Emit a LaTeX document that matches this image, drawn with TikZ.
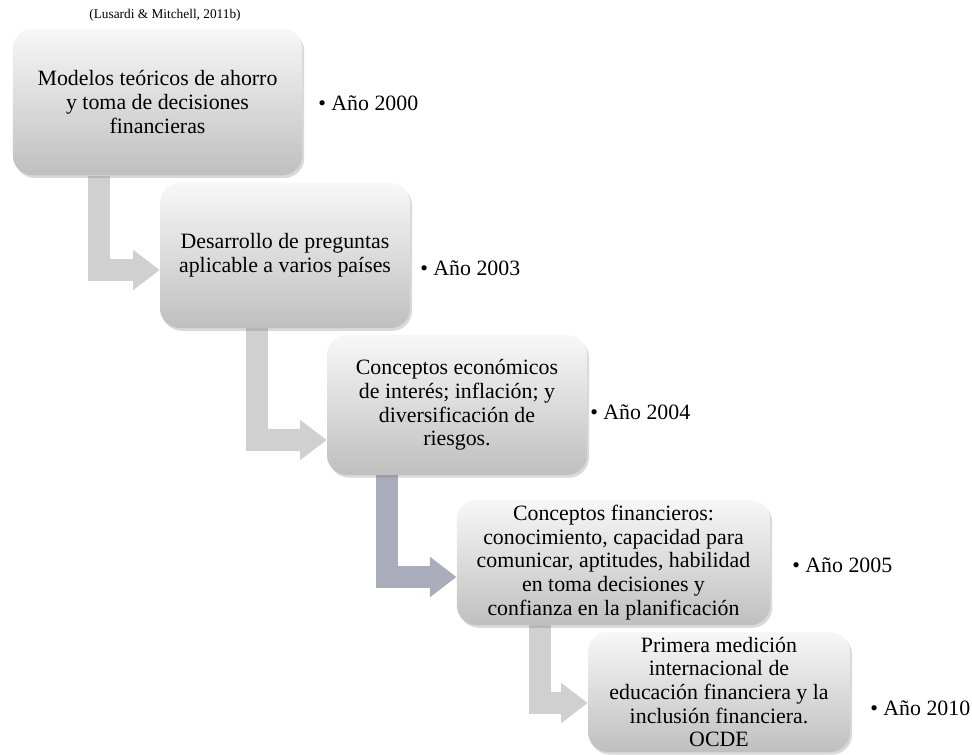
\documentclass[tikz,border=0pt]{standalone}
\usepackage{fontspec}
\setmainfont{Liberation Serif}
\usetikzlibrary{arrows.meta, shadows, backgrounds}
\definecolor{bargray}{HTML}{D0D0D0}
\definecolor{barblue}{HTML}{A9ADBB}

\begin{document}
\begin{tikzpicture}[x=0.75pt, y=-0.75pt,
  stage/.style={rounded corners=15pt, top color=gray!6, bottom color=gray!50,
    drop shadow={opacity=0.3, shadow xshift=1.5pt, shadow yshift=-2pt},
    align=center, inner sep=0pt, font=\fontsize{16.4}{17.8}\selectfont},
  year/.style={anchor=west, inner sep=0pt, font=\fontsize{16.4}{18}\selectfont},
  bar/.style={line width=17pt, bargray, -{Triangle[width=29pt, length=20pt]}}]
  \useasboundingbox (0,0) rectangle (972,755);

  \node[font=\fontsize{10}{12}\selectfont] (cite) at (165,15) {(Lusardi \& Mitchell, 2011b)};

  \node[stage, minimum width=217pt, minimum height=110pt] (b1) at (157.5,102)
    {Modelos teóricos de ahorro\\ y toma de decisiones\\ financieras};
  \node[stage, minimum width=187.5pt, minimum height=109pt] (b2) at (285,255.5)
    {Desarrollo de preguntas\\ aplicable a varios países};
  \node[stage, minimum width=195pt, minimum height=105pt] (b3) at (457,405)
    {Conceptos económicos\\ de interés; inflación; y\\ diversificación de\\ riesgos.};
  \node[stage, minimum width=235pt, minimum height=94pt] (b4) at (613.5,562.5)
    {Conceptos financieros:\\ conocimiento, capacidad para\\ comunicar, aptitudes, habilidad\\ en toma decisiones y\\ confianza en la planificación};
  \node[stage, minimum width=196.5pt, minimum height=90pt] (b5) at (719,692)
    {Primera medición\\ internacional de\\ educación financiera y la\\ inclusión financiera.\\ OCDE};

  \node[year] (y1) at (318,103) {\textbullet\ Año 2000};
  \node[year] (y2) at (420,268) {\textbullet\ Año 2003};
  \node[year] (y3) at (590,412) {\textbullet\ Año 2004};
  \node[year] (y4) at (792,565) {\textbullet\ Año 2005};
  \node[year] (y5) at (870,708) {\textbullet\ Año 2010};

  \coordinate (t1) at (b2.west |- 0,270);
  \coordinate (t2) at (b3.west |- 0,440);
  \coordinate (t3) at (b4.west |- 0,577);
  \coordinate (t4) at (b5.west |- 0,703);

  \begin{scope}[on background layer]
    \draw[bar] (b1.south -| 99,0) |- (t1);
    \draw[bar] (b2.south -| 257,0) |- (t2);
    \draw[bar, barblue] (b3.south -| 387,0) |- (t3);
    \draw[bar] (b4.south -| 540,0) |- (t4);
  \end{scope}
\end{tikzpicture}
\end{document}
